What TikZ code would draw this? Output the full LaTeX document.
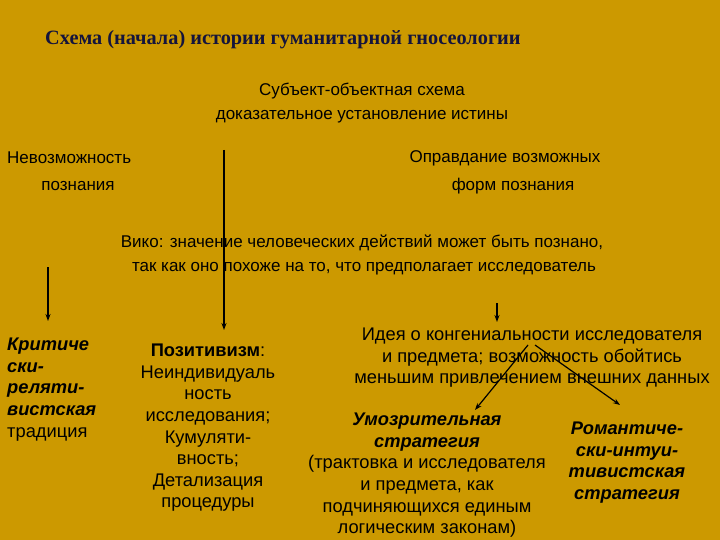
\documentclass[tikz,border=0pt]{standalone}
\usepackage{fontspec}
\usetikzlibrary{arrows.meta}
\setmainfont{Liberation Sans}
\newfontfamily\titlefont{Liberation Serif}
\begin{document}
\begin{tikzpicture}[x=1pt,y=-1pt,
  txt/.style={inner sep=0pt,font=\fontsize{17}{21.5}\selectfont,align=center},
  btxt/.style={inner sep=0pt,font=\fontsize{18.3}{21.6}\selectfont,align=center},
  arr/.style={line width=1.2pt,-{Stealth[length=7pt,width=5pt]}}]
\useasboundingbox[fill={rgb,255:red,204;green,153;blue,0}] (0,0) rectangle (720,540);
\node[anchor=west,inner sep=0pt,text={rgb,255:red,20;green,20;blue,60},font=\titlefont\bfseries\fontsize{20.3}{24}\selectfont] (t) at (45,40) {Схема (начала) истории гуманитарной гносеологии};
\node[txt] (s1) at (362,91) {Субъект-объектная схема};
\node[txt] (s2) at (362,117) {доказательное установление истины};
\node[txt,anchor=west] (n1) at (7,158) {Невозможность};
\node[txt] (n2) at (78,186) {познания};
\node[txt] (o1) at (505,158) {Оправдание возможных};
\node[txt] (o2) at (513,186) {форм познания};
\node[txt] (v1) at (362,243) {Вико: значение человеческих действий может быть познано,};
\node[txt] (v2) at (364,269) {так как оно похоже на то, что предполагает исследователь};
\node[btxt,anchor=north west,align=left] (k) at (7,338) {\textbf{\textit{Критиче}}\\\textbf{\textit{ски-}}\\\textbf{\textit{реляти-}}\\\textbf{\textit{вистская}}\\традиция};
\node[btxt,anchor=north] (p) at (208,344) {\textbf{Позитивизм}:\\Неиндивидуаль\\ность\\исследования;\\Кумуляти-\\вность;\\Детализация\\процедуры};
\node[btxt,anchor=north] (i) at (532,328) {Идея о конгениальности исследователя\\и предмета; возможность обойтись\\меньшим привлечением внешних данных};
\node[btxt,anchor=north] (u) at (427,413) {\textbf{\textit{Умозрительная}}\\\textbf{\textit{стратегия}}\\(трактовка и исследователя\\и предмета, как\\подчиняющихся единым\\логическим законам)};
\node[btxt,anchor=north] (r) at (627,422) {\textbf{\textit{Романтиче-}}\\\textbf{\textit{ски-интуи-}}\\\textbf{\textit{тивистская}}\\\textbf{\textit{стратегия}}};
\coordinate (a1) at (48,267); \coordinate (a1e) at (48,321);
\coordinate (a2) at (224,150); \coordinate (a2e) at (224,330);
\coordinate (a3) at (497,303); \coordinate (a3e) at (497,322);
\coordinate (b) at (528,345); \coordinate (be) at (475,410);
\coordinate (c) at (535,345); \coordinate (ce) at (620,405);
\draw[arr] (a1) -- (a1e);
\draw[arr] (a2) -- (a2e);
\draw[arr] (a3) -- (a3e);
\draw[arr] (b) -- (be);
\draw[arr] (c) -- (ce);
\end{tikzpicture}
\end{document}
